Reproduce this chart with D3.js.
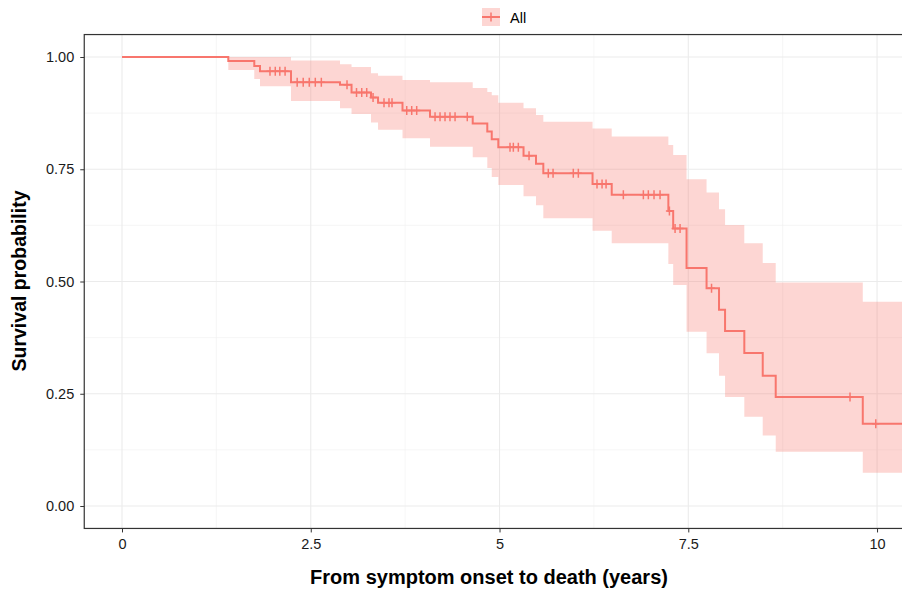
<!DOCTYPE html>
<html>
<head>
<meta charset="utf-8">
<script src="https://cdn.jsdelivr.net/npm/d3@7"></script>
<style>
  body { margin: 0; background: #fff; }
  text { font-family: "Liberation Sans", Arial, sans-serif; }
</style>
</head>
<body>
<script>
// Kaplan-Meier estimate (time in years)
var times = [0, 1.408, 1.752, 1.828, 2.238, 2.887, 3.040, 3.298, 3.391, 3.715, 4.079,
             4.645, 4.838, 4.897, 4.984, 5.318, 5.483, 5.580, 6.232, 6.486, 7.236,
             7.300, 7.477, 7.742, 7.907, 7.987, 8.242, 8.486, 8.658, 9.811, 10.6];
var surv  = [1, 0.991, 0.980, 0.968, 0.944, 0.938, 0.921, 0.910, 0.898, 0.881, 0.867,
             0.852, 0.834, 0.817, 0.799, 0.780, 0.762, 0.741, 0.717, 0.693, 0.657,
             0.618, 0.530, 0.485, 0.437, 0.390, 0.341, 0.290, 0.243, 0.183, 0.183];
var upper = [1, 1, 1, 1, 0.992, 0.984, 0.978, 0.964, 0.958, 0.949, 0.944,
             0.931, 0.922, 0.915, 0.898, 0.886, 0.871, 0.856, 0.841, 0.823, 0.804,
             0.782, 0.728, 0.698, 0.661, 0.626, 0.585, 0.541, 0.498, 0.455, 0.455];
var lower = [1, 0.971, 0.951, 0.935, 0.902, 0.886, 0.873, 0.854, 0.838, 0.819, 0.800,
             0.777, 0.753, 0.733, 0.715, 0.690, 0.670, 0.641, 0.613, 0.585, 0.539,
             0.492, 0.388, 0.340, 0.290, 0.243, 0.199, 0.157, 0.121, 0.074, 0.074];

// censored observations
var censorTimes = [1.96, 2.03, 2.09, 2.16, 2.32, 2.40, 2.48, 2.56, 2.64, 2.98,
                   3.106, 3.175, 3.241, 3.325, 3.47, 3.536, 3.576, 3.771, 3.837, 3.903,
                   4.146, 4.212, 4.278, 4.344, 4.411, 4.573, 5.139, 5.183, 5.249, 5.391,
                   5.646, 5.709, 5.977, 6.044, 6.291, 6.358, 6.411, 6.640, 6.905, 6.971,
                   7.046, 7.126, 7.25, 7.325, 7.391, 7.808, 9.642, 9.983];

var xTicks = [0, 2.5, 5, 7.5, 10];
var xLabels = ["0", "2.5", "5", "7.5", "10"];
var yTicks = [0, 0.25, 0.5, 0.75, 1];
var yLabels = ["0.00", "0.25", "0.50", "0.75", "1.00"];
var xMinor = [1.25, 3.75, 6.25, 8.75];
var yMinor = [0.125, 0.375, 0.625, 0.875];
var seriesName = "All";
var col = "#F8766D";

var width = 902, height = 590;

// set the ranges (panel runs past the right edge of the picture)
var x = d3.scaleLinear().domain([-0.5, 10.9]).range([84.25, 945]);
var y = d3.scaleLinear().domain([-0.05, 1.05]).range([528.45, 34.55]);

var svg = d3.select("body").append("svg")
    .attr("width", width)
    .attr("height", height);

svg.append("clipPath").attr("id", "clip")
  .append("rect")
    .attr("x", x(-0.5)).attr("y", y(1.05))
    .attr("width", x(10.9) - x(-0.5)).attr("height", y(-0.05) - y(1.05));

var plot = svg.append("g").attr("clip-path", "url(#clip)");

// grid lines
plot.selectAll(".vminor").data(xMinor).enter().append("line")
    .attr("x1", d => x(d)).attr("x2", d => x(d))
    .attr("y1", y(1.05)).attr("y2", y(-0.05))
    .style("stroke", "#f0f0f0").style("stroke-width", 0.6);
plot.selectAll(".hminor").data(yMinor).enter().append("line")
    .attr("x1", x(-0.5)).attr("x2", x(10.9))
    .attr("y1", d => y(d)).attr("y2", d => y(d))
    .style("stroke", "#f0f0f0").style("stroke-width", 0.6);
plot.selectAll(".vmajor").data(xTicks).enter().append("line")
    .attr("x1", d => x(d)).attr("x2", d => x(d))
    .attr("y1", y(1.05)).attr("y2", y(-0.05))
    .style("stroke", "#ebebeb").style("stroke-width", 1.1);
plot.selectAll(".hmajor").data(yTicks).enter().append("line")
    .attr("x1", x(-0.5)).attr("x2", x(10.9))
    .attr("y1", d => y(d)).attr("y2", d => y(d))
    .style("stroke", "#ebebeb").style("stroke-width", 1.1);

var data = times.map(function(t, i) {
  return {t: t, s: surv[i], up: upper[i], lo: lower[i]};
});

// confidence band
var band = d3.area()
    .curve(d3.curveStepAfter)
    .x(d => x(d.t))
    .y0(d => y(d.lo))
    .y1(d => y(d.up));

plot.append("path")
    .datum(data)
    .attr("d", band)
    .style("fill", col)
    .style("fill-opacity", 0.3)
    .style("stroke", "none");

// survival curve
var valueline = d3.line()
    .curve(d3.curveStepAfter)
    .x(d => x(d.t))
    .y(d => y(d.s));

plot.append("path")
    .datum(data)
    .attr("d", valueline)
    .style("fill", "none")
    .style("stroke", col)
    .style("stroke-width", 2);

// censor marks
var bisect = d3.bisector(d => d).right;
function survAt(t) { return surv[bisect(times, t) - 1]; }

plot.selectAll(".censor").data(censorTimes).enter().append("path")
    .attr("transform", d => "translate(" + x(d) + "," + y(survAt(d)) + ")")
    .attr("d", "M-3.5,0H3.5M0,-4.5V4.5")
    .style("fill", "none")
    .style("stroke", col)
    .style("stroke-width", 1.5);

// panel border
svg.append("rect")
    .attr("x", x(-0.5)).attr("y", y(1.05))
    .attr("width", x(10.9) - x(-0.5)).attr("height", y(-0.05) - y(1.05))
    .style("fill", "none").style("stroke", "#333").style("stroke-width", 1.2);

// axes
var xAxis = svg.append("g")
    .attr("transform", "translate(0," + y(-0.05) + ")")
    .call(d3.axisBottom(x).tickValues(xTicks)
      .tickFormat((d, i) => xLabels[i]).tickSize(4).tickSizeOuter(0).tickPadding(6));
var yAxis = svg.append("g")
    .attr("transform", "translate(" + x(-0.5) + ",0)")
    .call(d3.axisLeft(y).tickValues(yTicks)
      .tickFormat((d, i) => yLabels[i]).tickSize(4).tickSizeOuter(0).tickPadding(6));

[xAxis, yAxis].forEach(function(g) {
  g.select(".domain").remove();
  g.selectAll(".tick line").style("stroke", "#333");
  g.selectAll(".tick text")
      .style("font-size", "14.5px")
      .style("fill", "#1a1a1a")
      .style("font-family", "'Liberation Sans', Arial, sans-serif");
});

// axis titles
svg.append("text")
    .attr("x", 489).attr("y", 584)
    .attr("text-anchor", "middle")
    .style("font-size", "20px").style("font-weight", "bold").style("fill", "#000")
    .text("From symptom onset to death (years)");

svg.append("text")
    .attr("transform", "translate(26," + 281 + ") rotate(-90)")
    .attr("text-anchor", "middle")
    .style("font-size", "19.5px").style("font-weight", "bold").style("fill", "#000")
    .text("Survival probability");

// legend
var legend = svg.append("g").attr("transform", "translate(482,8)");
legend.append("rect")
    .attr("width", 18).attr("height", 18)
    .style("fill", col).style("fill-opacity", 0.3);
legend.append("line")
    .attr("x1", 0).attr("x2", 18).attr("y1", 9).attr("y2", 9)
    .style("stroke", col).style("stroke-width", 2);
legend.append("path")
    .attr("d", "M5.5,9H12.5M9,4.5V13.5")
    .style("stroke", col).style("stroke-width", 1.5);
legend.append("text")
    .attr("x", 28).attr("y", 15)
    .style("font-size", "14.5px").style("fill", "#000")
    .text(seriesName);
</script>
</body>
</html>
